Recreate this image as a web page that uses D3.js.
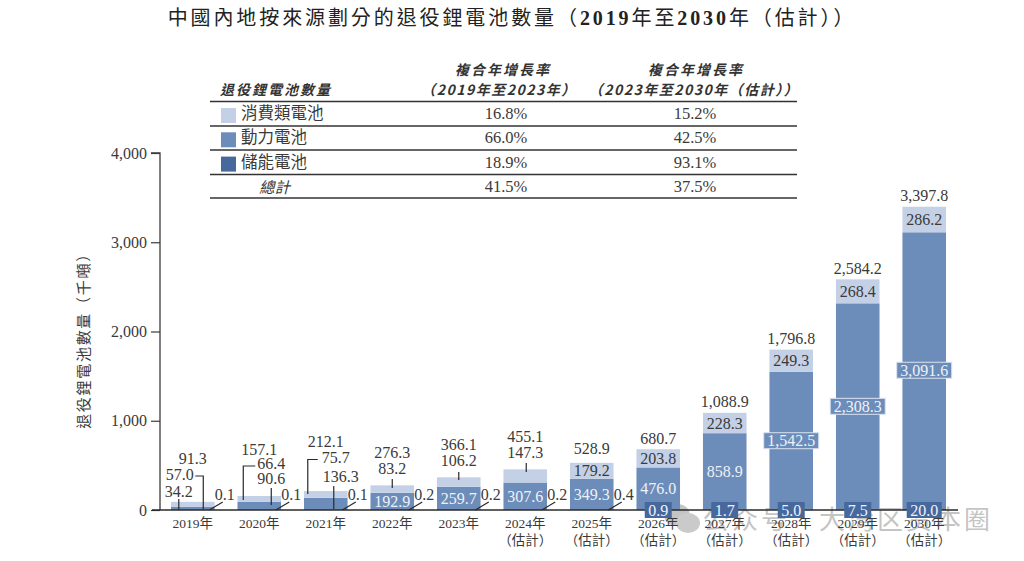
<!DOCTYPE html>
<html>
<head>
<meta charset="UTF-8">
<title>退役鋰電池數量</title>
<script src="https://cdn.jsdelivr.net/npm/d3@7/dist/d3.min.js"></script>
<style>
	html, body { margin: 0; padding: 0; background: #fff; }
	svg { display: block; }
	text { font-family: "Liberation Serif", "Noto Sans CJK TC", serif; fill: #3a3a3a; }
	.cjk { font-family: "Noto Sans CJK TC", sans-serif; }
</style>
</head>
<body>
<script>
	// data
	var years = ['2019年','2020年','2021年','2022年','2023年','2024年','2025年','2026年','2027年','2028年','2029年','2030年'];
	var isEstimate = [false,false,false,false,false,true,true,true,true,true,true,true];
	var storage = [0.1,0.1,0.1,0.2,0.2,0.2,0.4,0.9,1.7,5.0,7.5,20.0];
	var power = [34.2,90.6,136.3,192.9,259.7,307.6,349.3,476.0,858.9,1542.5,2308.3,3091.6];
	var consumer = [57.0,66.4,75.7,83.2,106.2,147.3,179.2,203.8,228.3,249.3,268.4,286.2];
	var totals = [91.3,157.1,212.1,276.3,366.1,455.1,528.9,680.7,1088.9,1796.8,2584.2,3397.8];
	var yTicks = [0,1000,2000,3000,4000];

	var legendNames = ['消費類電池','動力電池','儲能電池','總計'];
	var cagrFirst = ['16.8%','66.0%','18.9%','41.5%'];
	var cagrSecond = ['15.2%','42.5%','93.1%','37.5%'];

	var colors = {consumer: '#c3d0e6', power: '#6c8cb9', storage: '#46689d'};
	var ink = '#3a3a3a';

	// small bars cannot hold their labels: offsets from bar centre / baseline
	var callouts = {
		0: {total: [0,-52], consumer: [-13,-36], power: [-14,-19],
			lines: [[[-14,-11],[-14,0]], [[2.5,-34],[10.5,-34],[10.5,-1]]]},
		1: {total: [0,-61], consumer: [12,-47], power: [12,-32],
			lines: [[[-16,-10],[-16,-44],[-4,-44]], [[12,-22],[12,-5]]]},
		2: {total: [0,-69], consumer: [10,-53], power: [15,-34],
			lines: [[[-18,-16],[-18,-50.5],[-8,-50.5]], [[8,-24],[8,-1]]]},
		3: {total: [0,-58], consumer: [0,-42], lines: [[[0,-31],[0,-22]]]},
		4: {total: [0,-66], consumer: [0,-50], lines: [[[0,-38],[0,-30]]]},
		5: {total: [0,-74], consumer: [0,-58], lines: [[[1,-47],[1,-38]]]},
		6: {total: [0,-62]}
	};

	var width = 1024, height = 561;
	var svg = d3.select('body').append('svg').attr('width', width).attr('height', height);

	var x = d3.scaleBand().domain(years).range([171, 946]).paddingInner(0.345).paddingOuter(0);
	var y = d3.scaleLinear().domain([0, 4000]).range([510, 153]);
	var fmt = d3.format(',.1f');
	var line = d3.line();

	function cx(i) { return x(years[i]) + x.bandwidth() / 2; }

	// title
	var title = svg.append('text').attr('x', 512).attr('y', 25)
		.attr('text-anchor', 'middle').style('font-size', '20px').style('letter-spacing', '2.9px')
		.style('fill', '#222');
	title.append('tspan').attr('class', 'cjk').text('中國內地按來源劃分的退役鋰電池數量（');
	title.append('tspan').attr('font-weight', 'bold').text('2019');
	title.append('tspan').attr('class', 'cjk').text('年至');
	title.append('tspan').attr('font-weight', 'bold').text('2030');
	title.append('tspan').attr('class', 'cjk').text('年（估計））');

	// table
	var tableLines = [101.5, 126, 150, 174.5, 198];
	svg.selectAll('.rule').data(tableLines).enter().append('line')
		.attr('x1', 210).attr('x2', 797).attr('y1', function(d) { return d; }).attr('y2', function(d) { return d; })
		.attr('stroke', '#333').attr('stroke-width', 1.3);

	function head(px, py, str, spacing) {
		svg.append('text').attr('class', 'cjk').attr('x', px).attr('y', py).attr('text-anchor', 'middle')
			.attr('font-weight', 'bold').style('font-style', 'italic').style('font-size', '14px')
			.style('letter-spacing', spacing + 'px').style('fill', '#333').text(str);
	}
	head(276, 95, '退役鋰電池數量', 2);
	head(503, 75, '複合年增長率', 2);
	head(499, 95, '（2019年至2023年）', 1.5);
	head(696, 75, '複合年增長率', 2);
	head(694, 95, '（2023年至2030年（估計））', 1.5);

	var legendColors = [colors.consumer, colors.power, colors.storage];
	legendNames.forEach(function(name, i) {
		var rowY = 119 + i * 24.3;
		if (i < 3) {
			svg.append('rect').attr('x', 221).attr('y', rowY - 11).attr('width', 15).attr('height', 15).attr('fill', legendColors[i]);
			svg.append('text').attr('class', 'cjk').attr('x', 241).attr('y', rowY).style('font-size', '16.5px').text(name);
		} else {
			svg.append('text').attr('class', 'cjk').attr('x', 259).attr('y', rowY + 1).style('font-size', '15.5px').style('font-style', 'italic').text(name);
		}
		svg.append('text').attr('x', 506).attr('y', rowY).attr('text-anchor', 'middle').style('font-size', '16.5px').text(cagrFirst[i]);
		svg.append('text').attr('x', 695).attr('y', rowY).attr('text-anchor', 'middle').style('font-size', '16.5px').text(cagrSecond[i]);
	});

	// watermark, under the axis labels
	var wm = svg.append('g').attr('opacity', 0.38);
	wm.append('ellipse').attr('cx', 677).attr('cy', 515).attr('rx', 13).attr('ry', 11).attr('fill', '#666');
	wm.append('ellipse').attr('cx', 688).attr('cy', 523).attr('rx', 12).attr('ry', 10).attr('fill', '#777');
	wm.append('text').attr('class', 'cjk').attr('x', 703).attr('y', 529)
		.style('font-size', '26px').style('letter-spacing', '3px').style('fill', '#666').text('公众号');
	wm.append('text').attr('class', 'cjk').attr('x', 819).attr('y', 529)
		.style('font-size', '26px').style('letter-spacing', '3px').style('fill', '#666').text('大湾区资本圈');

	// stacked bars
	var layers = [
		{key: 'storage', values: storage},
		{key: 'power', values: power},
		{key: 'consumer', values: consumer}
	];
	var base = years.map(function() { return 0; });
	var spans = {};
	layers.forEach(function(layer) {
		spans[layer.key] = layer.values.map(function(v, i) {
			var s = {y0: base[i], y1: base[i] + v};
			base[i] += v;
			return s;
		});
		svg.append('g').selectAll('rect').data(spans[layer.key]).enter().append('rect')
			.attr('x', function(d, i) { return x(years[i]); })
			.attr('width', x.bandwidth())
			.attr('y', function(d) { return y(d.y1); })
			.attr('height', function(d) { return y(d.y0) - y(d.y1); })
			.attr('fill', colors[layer.key]);
	});

	// axes
	var yAxis = svg.append('g').attr('transform', 'translate(160,0)')
		.call(d3.axisLeft(y).tickValues(yTicks).tickFormat(d3.format(',')).tickSize(9).tickPadding(4));
	yAxis.select('.domain').attr('stroke', ink).attr('stroke-width', 1.3).attr('d', 'M-9,153H0V510');
	yAxis.selectAll('.tick line').attr('stroke', ink).attr('stroke-width', 1.2);
	yAxis.selectAll('text').style('font-size', '16px').style('fill', ink);

	var xAxis = svg.append('g').attr('transform', 'translate(0,510)')
		.call(d3.axisBottom(x).tickSize(0).tickPadding(8));
	xAxis.select('.domain').attr('stroke', '#2a2a2a').attr('stroke-width', 1.3).attr('d', 'M152,0H958');
	xAxis.selectAll('text').style('font-size', '13.5px').style('fill', ink);
	xAxis.selectAll('.tick').each(function(d, i) {
		if (isEstimate[i]) {
			d3.select(this).select('text').append('tspan').attr('x', 0).attr('dy', '1.3em').text('（估計）');
		}
	});

	svg.append('text').attr('class', 'cjk')
		.attr('transform', 'translate(89,337) rotate(-90)').attr('text-anchor', 'middle')
		.style('font-size', '15px').style('letter-spacing', '1.7px').text('退役鋰電池數量（千噸）');

	// labels
	function label(px, py, str, fill) {
		return svg.append('text').attr('x', px).attr('y', py).attr('dy', '0.35em').attr('text-anchor', 'middle')
			.style('font-size', '16px').style('fill', fill || ink).text(str);
	}
	function boxedLabel(px, py, str, fill, stroke) {
		var g = svg.append('g');
		var t = label(px, py, str, '#eef2f8');
		var w = t.node().getComputedTextLength() + 7;
		g.append('rect').attr('x', px - w / 2).attr('y', py - 8).attr('width', w).attr('height', 16)
			.attr('fill', fill).attr('stroke', stroke || 'none');
		g.node().parentNode.appendChild(t.node());
	}
	function mid(s) { return y((s.y0 + s.y1) / 2); }

	years.forEach(function(year, i) {
		var c = cx(i), call = callouts[i] || {};

		if (call.total) label(c + call.total[0], y(0) + call.total[1], fmt(totals[i]));
		else label(c, y(totals[i]) - 11, fmt(totals[i]));

		if (call.consumer) label(c + call.consumer[0], y(0) + call.consumer[1], fmt(consumer[i]));
		else label(c, mid(spans.consumer[i]), fmt(consumer[i]));

		if (call.power) label(c + call.power[0], y(0) + call.power[1], fmt(power[i]));
		else if (power[i] > 1000) boxedLabel(c, mid(spans.power[i]), fmt(power[i]), colors.power, '#dbe3f0');
		else label(c, mid(spans.power[i]), fmt(power[i]), '#eef2f8');

		(call.lines || []).forEach(function(pts) {
			svg.append('path')
				.attr('d', line(pts.map(function(p) { return [c + p[0], y(0) + p[1]]; })))
				.attr('fill', 'none').attr('stroke', '#2a2a2a').attr('stroke-width', 1.2);
		});

		if (storage[i] < 0.5) {
			label(c + 32, y(0) - 16, fmt(storage[i]));
			svg.append('path')
				.attr('d', line([[c + 16.5, y(0)], [c + 30, y(0) - 8]]))
				.attr('fill', 'none').attr('stroke', '#2a2a2a').attr('stroke-width', 1.2);
		} else {
			boxedLabel(c, y(0), fmt(storage[i]), colors.storage);
		}
	});
</script>
</body>
</html>
